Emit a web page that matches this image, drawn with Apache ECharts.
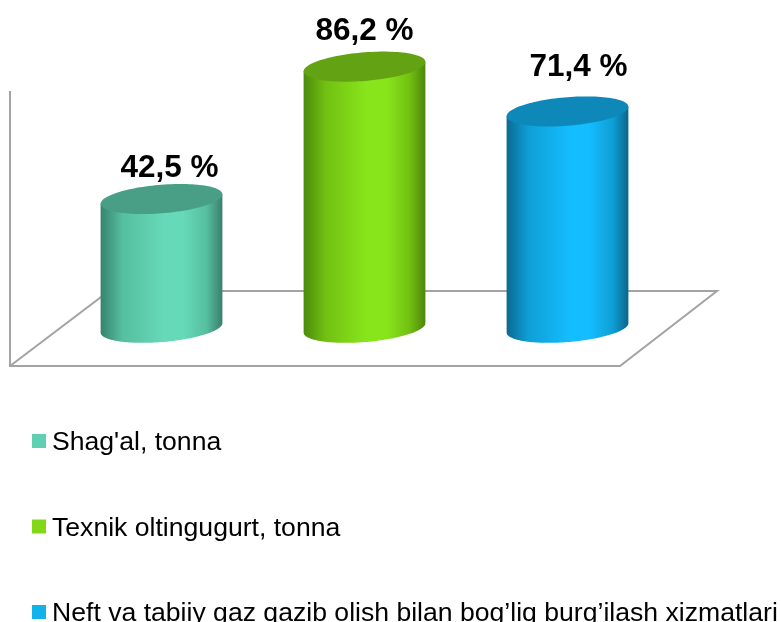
<!DOCTYPE html>
<html>
<head>
<meta charset="utf-8">
<script src="https://cdn.jsdelivr.net/npm/echarts@6/dist/echarts.min.js"></script>
<style>html,body{margin:0;padding:0;background:#fff;overflow:hidden}#c{width:781px;height:622px}</style>
</head>
<body>
<div id="c"></div>
<script>
const categories = ["Shag'al, tonna", "Texnik oltingugurt, tonna", "Neft va tabiiy gaz qazib olish bilan bog’liq burg’ilash xizmatlari"];
const values = [42.5, 86.2, 71.4];
const valueLabels = ["42,5 %", "86,2 %", "71,4 %"];

const FONT = '"Liberation Sans", Arial, sans-serif';
const shades = [
  {swatch:'#5fd0b2', top:'#489f86', edge:'#37836e', side:'#55bf9f', mid:'#66d9b8', right:'#3b7f6b'},
  {swatch:'#82d816', top:'#62a213', edge:'#4c8a0a', side:'#72c012', mid:'#88e51b', right:'#4f860b'},
  {swatch:'#12b2ea', top:'#0e88b8', edge:'#0a6a92', side:'#0f9fd6', mid:'#14bdff', right:'#0a668c'}
];
const labelShift = [[8,-31],[0,-35],[11,-44]];

function ellipsePts(cx, cy, X, off, k, from, to, n) {
  const pts = [];
  for (let i = 0; i <= n; i++) {
    const t = from + (to - from) * i / n;
    pts.push([cx + X * Math.cos(t), cy - off * Math.cos(t) + k * Math.sin(t)]);
  }
  return pts;
}

function cylinder(idx) {
  return function (params, api) {
    const top = api.coord([api.value(0), api.value(1)]);
    const base = api.coord([api.value(0), 0]);
    const X = api.size([1, 0])[0] * 0.3;
    const off = 4.7, k = 14.3;
    const s = shades[idx];
    const lower = ellipsePts(base[0], base[1], X, off, k, Math.PI, 0, 80);
    const sidePts = [[top[0] - X, top[1] + off]].concat(lower, [[top[0] + X, top[1] - off]]);
    return {
      type: 'group',
      children: [
        {
          type: 'polygon',
          shape: {points: sidePts},
          style: {
            fill: new echarts.graphic.LinearGradient(0, 0, 1, 0, [
              {offset: 0, color: s.edge},
              {offset: 0.18, color: s.side},
              {offset: 0.52, color: s.mid},
              {offset: 0.68, color: s.mid},
              {offset: 0.87, color: s.side},
              {offset: 1, color: s.right}
            ])
          }
        },
        {
          type: 'polygon',
          shape: {points: ellipsePts(top[0], top[1], X, off, k, 0, Math.PI * 2, 120)},
          style: {fill: s.top}
        },
        {
          type: 'text',
          style: {
            text: valueLabels[idx],
            x: top[0] + labelShift[idx][0],
            y: top[1] + labelShift[idx][1],
            align: 'center',
            verticalAlign: 'middle',
            font: 'bold 31.5px ' + FONT,
            fill: '#000'
          }
        }
      ]
    };
  };
}

const chart = echarts.init(document.getElementById('c'), null, {renderer: 'canvas'});
const frame = {stroke: '#a3a3a3', lineWidth: 2, fill: 'none'};
chart.setOption({
  animation: false,
  backgroundColor: '#fff',
  grid: {left: 60, width: 609, top: 24.8, height: 303},
  xAxis: {type: 'category', data: categories, show: false},
  yAxis: {type: 'value', min: 0, max: 100, show: false},
  legend: {
    left: 27, top: 424.5, orient: 'vertical', height: 400,
    icon: 'rect', itemWidth: 14, itemHeight: 14, itemGap: 58.5, selectedMode: false,
    formatter: n => '{t|' + n + '}',
    textStyle: {
      fontFamily: FONT, fontSize: 26.6, color: '#000',
      rich: {t: {fontFamily: FONT, fontSize: 26.6, color: '#000', padding: [4, 0, 0, 1]}}
    },
    data: categories
  },
  graphic: [
    {type: 'polyline', z: 0, shape: {points: [[10, 91], [10, 366], [620, 366], [717, 291], [109, 291], [10, 366]]}, style: frame}
  ],
  series: categories.map((name, i) => ({
    type: 'custom',
    name: name,
    z: 2,
    itemStyle: {color: shades[i].swatch},
    encode: {x: 0, y: 1},
    data: [[i, values[i]]],
    renderItem: cylinder(i)
  }))
});
</script>
</body>
</html>
